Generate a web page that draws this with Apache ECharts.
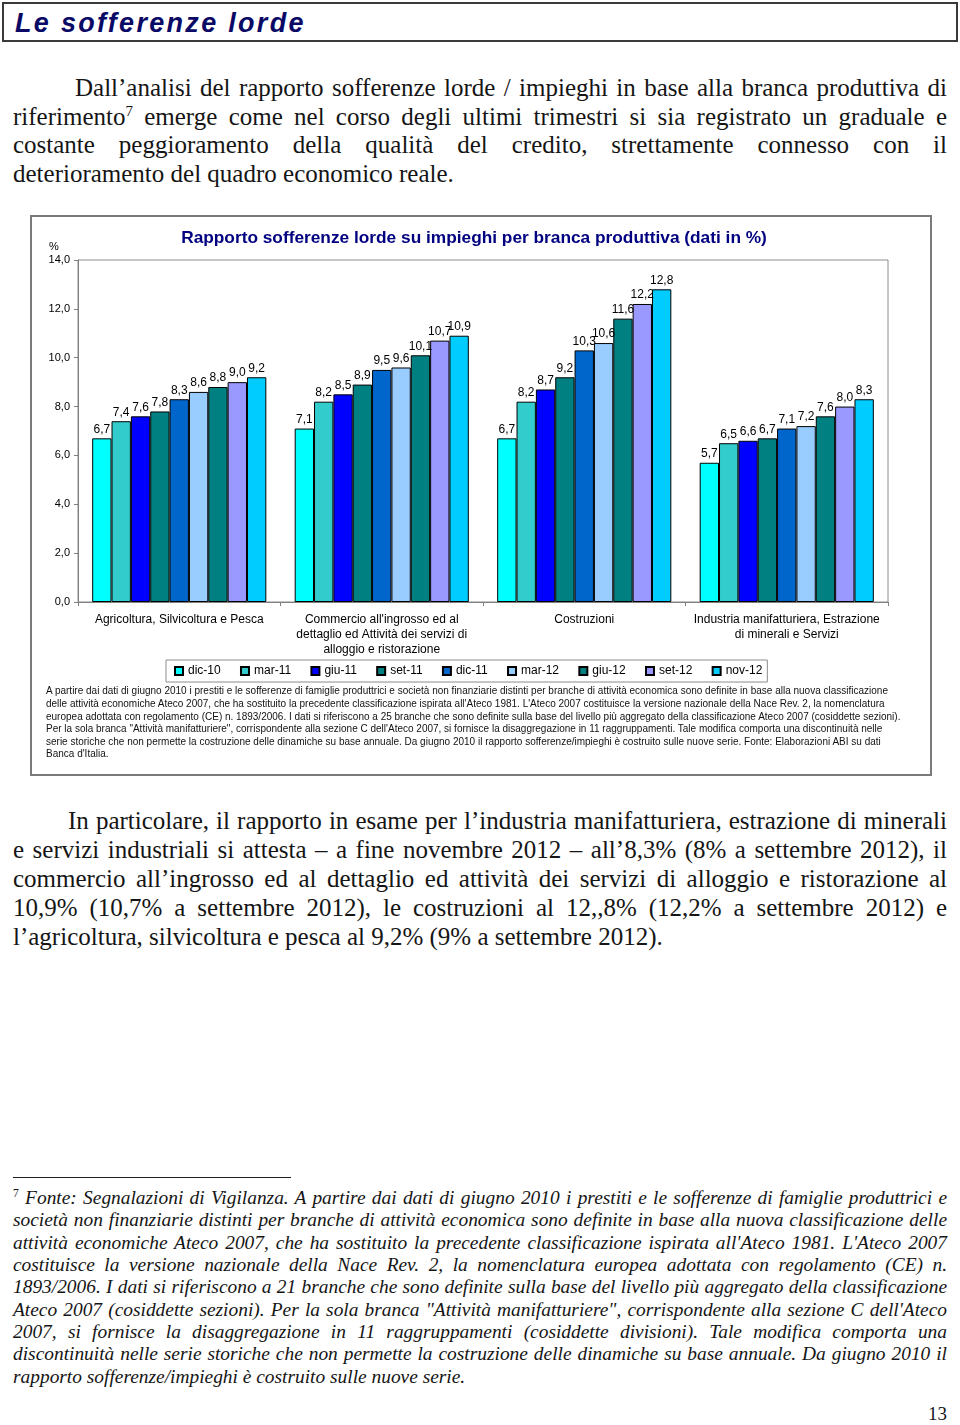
<!DOCTYPE html>
<html>
<head>
<meta charset="utf-8">
<script src="https://cdn.jsdelivr.net/npm/echarts@6/dist/echarts.min.js"></script>
<style>
  html, body { margin:0; padding:0; background:#fff; }
  body { width:960px; height:1425px; position:relative; overflow:hidden; }
  .hdr { position:absolute; left:2px; top:2px; width:956px; height:40px; box-sizing:border-box; border:2px solid #3a3a3a; }
  .hdr span { position:absolute; left:11px; top:4px; font-family:"Liberation Sans", Arial, sans-serif; font-weight:bold; font-style:italic; font-size:27px; letter-spacing:2.3px; color:#0a0a66; }
  .ln { position:absolute; left:13px; width:934px; white-space:nowrap; font-family:"Liberation Serif","Times New Roman",serif; color:#151515; }
  .p { font-size:25px; line-height:29px; height:29px; }
  .j { text-align:justify; text-align-last:justify; }
  .fn { font-size:19.4px; line-height:22px; height:22px; font-style:italic; }
  sup { font-size:60%; line-height:0; vertical-align:super; }
  .note { position:absolute; left:46px; white-space:nowrap; font-family:"Liberation Sans", Arial, sans-serif; font-size:10.5px; line-height:12.6px; color:#111; transform-origin:0 50%; }
  #chart { position:absolute; left:30px; top:215px; width:902px; height:561px; box-sizing:border-box; border:2px solid #7a7a7a; }
</style>
</head>
<body>
<div class="hdr"><span>Le sofferenze lorde</span></div>

<div class="ln p j" style="top:73px; left:75px; width:872px;">Dall’analisi del rapporto sofferenze lorde / impieghi in base alla branca produttiva di</div>
<div class="ln p j" style="top:102px;">riferimento<sup>7</sup> emerge come nel corso degli ultimi trimestri si sia registrato un graduale e</div>
<div class="ln p j" style="top:130px;">costante peggioramento della qualità del credito, strettamente connesso con il</div>
<div class="ln p" style="top:159px;">deterioramento del quadro economico reale.</div>

<div id="chart"></div>
<div id="notes"></div>

<div class="ln p j" style="top:806px; left:68px; width:879px;">In particolare, il rapporto in esame per l’industria manifatturiera, estrazione di minerali</div>
<div class="ln p j" style="top:835px;">e servizi industriali si attesta – a fine novembre 2012 – all’8,3% (8% a settembre 2012), il</div>
<div class="ln p j" style="top:864px;">commercio all’ingrosso ed al dettaglio ed attività dei servizi di alloggio e ristorazione al</div>
<div class="ln p j" style="top:893px;">10,9% (10,7% a settembre 2012), le costruzioni al 12,,8% (12,2% a settembre 2012) e</div>
<div class="ln p" style="top:922px;">l’agricoltura, silvicoltura e pesca al 9,2% (9% a settembre 2012).</div>

<div style="position:absolute; left:13px; top:1177px; width:278px; height:1px; background:#222;"></div>
<div class="ln fn j" style="top:1187px;"><sup style="font-style:normal">7</sup> Fonte: Segnalazioni di Vigilanza. A partire dai dati di giugno 2010 i prestiti e le sofferenze di famiglie produttrici e</div>
<div class="ln fn j" style="top:1209px;">società non finanziarie distinti per branche di attività economica sono definite in base alla nuova classificazione delle</div>
<div class="ln fn j" style="top:1232px;">attività economiche Ateco 2007, che ha sostituito la precedente classificazione ispirata all'Ateco 1981. L'Ateco 2007</div>
<div class="ln fn j" style="top:1254px;">costituisce la versione nazionale della Nace Rev. 2, la nomenclatura europea adottata con regolamento (CE) n.</div>
<div class="ln fn j" style="top:1276px;">1893/2006. I dati si riferiscono a 21 branche che sono definite sulla base del livello più aggregato della classificazione</div>
<div class="ln fn j" style="top:1299px;">Ateco 2007 (cosiddette sezioni). Per la sola branca "Attività manifatturiere", corrispondente alla sezione C dell'Ateco</div>
<div class="ln fn j" style="top:1321px;">2007, si fornisce la disaggregazione in 11 raggruppamenti (cosiddette divisioni). Tale modifica comporta una</div>
<div class="ln fn j" style="top:1343px;">discontinuità nelle serie storiche che non permette la costruzione delle dinamiche su base annuale. Da giugno 2010 il</div>
<div class="ln fn" style="top:1366px;">rapporto sofferenze/impieghi è costruito sulle nuove serie.</div>

<div style="position:absolute; left:928px; top:1403px; font-family:'Liberation Serif',serif; font-size:19px; color:#151515;">13</div>

<script>
// ---- data ----
var categories = [
  "Agricoltura, Silvicoltura e Pesca",
  "Commercio all'ingrosso ed al\ndettaglio ed Attività dei servizi di\nalloggio e ristorazione",
  "Costruzioni",
  "Industria manifatturiera, Estrazione\ndi minerali e Servizi"
];
var periods = ["dic-10","mar-11","giu-11","set-11","dic-11","mar-12","giu-12","set-12","nov-12"];
var dic10 = [6.7, 7.1, 6.7, 5.7];
var mar11 = [7.4, 8.2, 8.2, 6.5];
var giu11 = [7.6, 8.5, 8.7, 6.6];
var set11 = [7.8, 8.9, 9.2, 6.7];
var dic11 = [8.3, 9.5, 10.3, 7.1];
var mar12 = [8.6, 9.6, 10.6, 7.2];
var giu12 = [8.8, 10.1, 11.6, 7.6];
var set12 = [9.0, 10.7, 12.2, 8.0];
var nov12 = [9.2, 10.9, 12.8, 8.3];
var yTicks = [0, 2, 4, 6, 8, 10, 12, 14];
var noteLines = [
  "A partire dai dati di giugno 2010 i prestiti e le sofferenze di famiglie produttrici e società non finanziarie distinti per branche di attività economica sono definite in base alla nuova classificazione",
  "delle attività economiche Ateco 2007, che ha sostituito la precedente classificazione ispirata all'Ateco 1981. L'Ateco 2007 costituisce la versione nazionale della Nace Rev. 2, la nomenclatura",
  "europea adottata con regolamento (CE) n. 1893/2006. I dati si riferiscono a 25 branche che sono definite sulla base del livello più aggregato della classificazione Ateco 2007 (cosiddette sezioni).",
  "Per la sola branca \"Attività manifatturiere\", corrispondente alla sezione C dell'Ateco 2007, si fornisce la disaggregazione in 11 raggruppamenti. Tale modifica comporta una discontinuità nelle",
  "serie storiche che non permette la costruzione delle dinamiche su base annuale. Da giugno 2010 il rapporto sofferenze/impieghi è costruito sulle nuove serie. Fonte: Elaborazioni ABI su dati",
  "Banca d'Italia."
];

var seriesValues = [dic10, mar11, giu11, set11, dic11, mar12, giu12, set12, nov12];
var colors = ["#00FFFF","#33CCCC","#0000FF","#008080","#0066CC","#99CCFF","#008080","#9999FF","#00CCFF"];

function fmt(v){ return Number(v).toFixed(1).replace('.', ','); }

var chart = echarts.init(document.getElementById('chart'), null, {renderer:'canvas'});
var series = periods.map(function(p, i){
  return {
    name: p, type: 'bar', data: seriesValues[i],
    barGap: '0%', barCategoryGap: '14%',
    itemStyle: { color: colors[i], borderColor: '#000', borderWidth: 1 },
    label: { show: true, position: 'top', distance: 3, formatter: function(o){ return fmt(o.value); },
             fontFamily: 'Liberation Sans, Arial, sans-serif', fontSize: 12, color: '#000' }
  };
});

chart.setOption({
  animation: false,
  color: colors,
  grid: { left: 46, top: 43, width: 810, height: 342, show: true, borderColor: '#8c8c8c', borderWidth: 1 },
  graphic: [
    { type: 'text', x: 442, y: 21, style: { text: 'Rapporto sofferenze lorde su impieghi per branca produttiva (dati in %)',
      font: 'bold 17.3px "Liberation Sans", Arial, sans-serif', fill: '#000080', textAlign: 'center', textVerticalAlign: 'middle' } },
    { type: 'text', x: 17, y: 30, style: { text: '%', font: '11px "Liberation Sans", Arial, sans-serif', fill: '#000', textVerticalAlign: 'middle' } }
  ],
  legend: {
    data: periods, left: 134, top: 443, orient: 'horizontal',
    itemWidth: 8, itemHeight: 8, itemGap: 19.3, icon: 'rect',
    borderColor: '#8c8c8c', borderWidth: 1, padding: [5, 5, 5, 8],
    textStyle: { fontFamily: 'Liberation Sans, Arial, sans-serif', fontSize: 12, color: '#000' }
  },
  xAxis: {
    type: 'category', data: categories,
    axisLine: { lineStyle: { color: '#808080' } },
    axisTick: { show: true, length: 4, lineStyle: { color: '#808080' } },
    axisLabel: { interval: 0, margin: 10, fontFamily: 'Liberation Sans, Arial, sans-serif', fontSize: 12, lineHeight: 15, color: '#000' }
  },
  yAxis: {
    type: 'value', min: yTicks[0], max: yTicks[yTicks.length-1], interval: yTicks[1]-yTicks[0],
    axisLine: { show: true, lineStyle: { color: '#808080' } },
    axisTick: { show: true, length: 4, lineStyle: { color: '#808080' } },
    splitLine: { show: false },
    axisLabel: { margin: 8, formatter: fmt, fontFamily: 'Liberation Sans, Arial, sans-serif', fontSize: 11, color: '#000' }
  },
  series: series
});

// notes under the chart
var notes = document.getElementById('notes');
var centers = [690, 703, 716, 728, 741, 753];
var spans = [];
noteLines.forEach(function(t, i){
  var d = document.createElement('div');
  d.className = 'note';
  d.textContent = t;
  d.style.top = (centers[i] - 6.3) + 'px';
  notes.appendChild(d);
  spans.push(d);
});
var w0 = spans[0].getBoundingClientRect().width;
var k = 842 / w0;
spans.forEach(function(d){ d.style.transform = 'scaleX(' + k + ')'; });
</script>
</body>
</html>
